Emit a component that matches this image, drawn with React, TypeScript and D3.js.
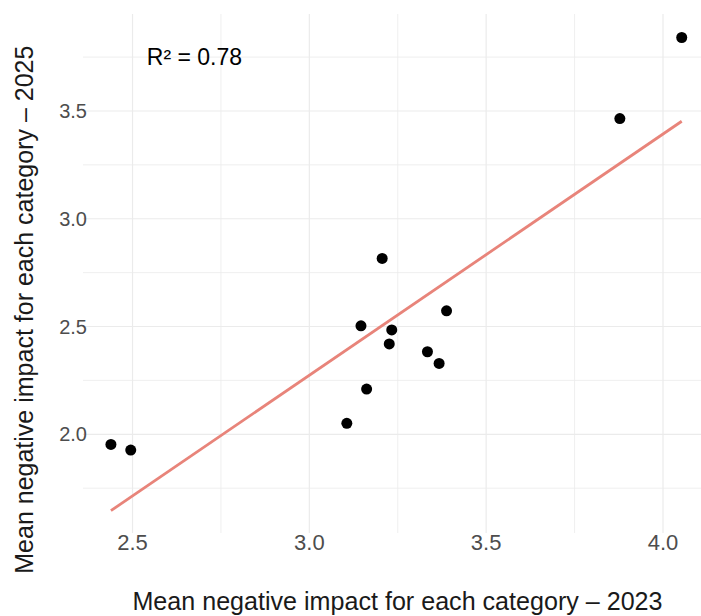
import * as d3 from "d3";

// mean negative impact per category, 2023 (x) vs 2025 (y)
const impact2023 = [2.439, 2.495, 3.106, 3.146, 3.233, 3.226, 3.388, 3.334, 3.367, 3.162, 3.206, 3.878, 4.053];
const impact2025 = [1.953, 1.927, 2.051, 2.503, 2.484, 2.419, 2.573, 2.383, 2.329, 2.21, 2.816, 3.465, 3.841];

const xTicks = [2.5, 3.0, 3.5, 4.0];
const xMinor = [2.75, 3.25, 3.75];
const yTicks = [2.0, 2.5, 3.0, 3.5];
const yMinor = [1.75, 2.25, 2.75, 3.25, 3.75];

const r2Label = "R² = 0.78";
const xTitle = "Mean negative impact for each category – 2023";
const yTitle = "Mean negative impact for each category – 2025";

const W = 701;
const H = 616;
const font = "'Liberation Sans', Arial, sans-serif";

const App = () => {
  const x = d3.scaleLinear().domain([2.36, 4.14]).range([83, 712.5]);
  const y = d3.scaleLinear().domain([1.542, 3.95]).range([533, 14]);

  // simple least squares fit, like geom_smooth(method = "lm")
  const mx = d3.mean(impact2023)!;
  const my = d3.mean(impact2025)!;
  const sxy = d3.sum(impact2023, (v, i) => (v - mx) * (impact2025[i] - my));
  const sxx = d3.sum(impact2023, (v) => (v - mx) ** 2);
  const slope = sxy / sxx;
  const icpt = my - slope * mx;
  const [x0, x1] = d3.extent(impact2023) as [number, number];
  const fit = d3.line<number>().x((v) => x(v)).y((v) => y(icpt + slope * v))([x0, x1]);

  const [px0, px1] = x.range();
  const [py0, py1] = y.range();

  return (
    <svg width={W} height={H} style={{ position: "absolute", left: 0, top: 0, background: "#fff" }} fontFamily={font}>
      <g stroke="#EBEBEB">
        {yMinor.map((t) => (
          <line key={"ym" + t} x1={px0} x2={px1} y1={y(t)} y2={y(t)} strokeWidth={0.8} />
        ))}
        {xMinor.map((t) => (
          <line key={"xm" + t} x1={x(t)} x2={x(t)} y1={py0} y2={py1} strokeWidth={0.8} />
        ))}
        {yTicks.map((t) => (
          <line key={"y" + t} x1={px0} x2={px1} y1={y(t)} y2={y(t)} strokeWidth={1.2} />
        ))}
        {xTicks.map((t) => (
          <line key={"x" + t} x1={x(t)} x2={x(t)} y1={py0} y2={py1} strokeWidth={1.2} />
        ))}
      </g>

      <path d={fit ?? ""} fill="none" stroke="#E8847A" strokeWidth={2.8} />

      {impact2023.map((v, i) => (
        <circle key={i} cx={x(v)} cy={y(impact2025[i])} r={5.5} fill="#000" />
      ))}

      <text x={x(2.675)} y={y(3.75)} textAnchor="middle" dominantBaseline="central" fontSize={23} fill="#000">
        {r2Label}
      </text>

      {yTicks.map((t) => (
        <text key={"yl" + t} x={87} y={y(t)} textAnchor="end" dominantBaseline="central" fontSize={20} fill="#4D4D4D">
          {d3.format(".1f")(t)}
        </text>
      ))}
      {xTicks.map((t) => (
        <text key={"xl" + t} x={x(t)} y={550} textAnchor="middle" fontSize={22} fill="#4D4D4D">
          {d3.format(".1f")(t)}
        </text>
      ))}

      <text x={397.5} y={610} textAnchor="middle" fontSize={25.1} fill="#1A1A1A">
        {xTitle}
      </text>
      <text
        transform={`translate(33,309.7) rotate(-90)`}
        textAnchor="middle"
        fontSize={25}
        fill="#1A1A1A"
      >
        {yTitle}
      </text>
    </svg>
  );
};

export default App;
